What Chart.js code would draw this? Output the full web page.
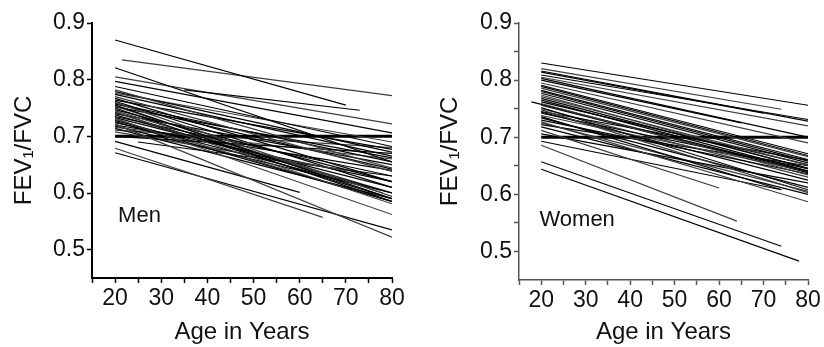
<!DOCTYPE html>
<html>
<head>
<meta charset="utf-8">
<script src="https://cdn.jsdelivr.net/npm/chart.js@4"></script>
<style>
  body { margin: 0; background: #fff; }
  #wrap { position: relative; width: 824px; height: 347px; }
  canvas { position: absolute; top: 0; }
  #men { left: 0; }
  #women { left: 412px; }
</style>
</head>
<body>
<div id="wrap">
  <canvas id="men" width="412" height="347"></canvas>
  <canvas id="women" width="412" height="347"></canvas>
</div>
<script>
// Men: one line per subject (start age, start value, end age, end value)
const menStartAge = [20, 21.5, 35, 20, 20, 20, 20, 20, 20, 20, 20, 20, 20, 20, 20, 20, 20, 20,
                     20, 20, 20, 20, 20, 20, 20, 20, 20, 20, 20, 25, 20, 20, 20, 20, 20,
                     20, 20, 20, 20, 20, 20, 20, 20, 20, 20, 20, 20];
const menStartVal = [0.870, 0.835, 0.782, 0.821, 0.805, 0.797, 0.788, 0.782, 0.779, 0.774, 0.770, 0.767,
                     0.764, 0.760, 0.758, 0.755, 0.753, 0.750, 0.747, 0.743, 0.738, 0.735, 0.732, 0.728,
                     0.726, 0.722, 0.720, 0.714, 0.708, 0.690, 0.691, 0.679, 0.671, 0.700, 0.716,
                     0.762, 0.757, 0.745, 0.740, 0.733, 0.730, 0.724, 0.718, 0.776, 0.752, 0.742, 0.711];
const menEndAge = [70, 80, 73, 80, 80, 80, 80, 80, 80, 80, 80, 80, 80, 80, 80, 80, 78, 80,
                   80, 80, 80, 80, 80, 75, 80, 80, 80, 80, 70, 80, 60, 65, 80, 80, 80,
                   80, 80, 80, 80, 80, 80, 80, 80, 80, 80, 80, 80];
const menEndVal = [0.755, 0.772, 0.746, 0.655, 0.722, 0.706, 0.682, 0.644, 0.672, 0.665, 0.638, 0.620,
                   0.677, 0.594, 0.655, 0.590, 0.600, 0.585, 0.620, 0.581, 0.600, 0.630, 0.562, 0.610,
                   0.585, 0.522, 0.640, 0.590, 0.640, 0.630, 0.601, 0.557, 0.535, 0.670, 0.660,
                   0.610, 0.642, 0.600, 0.650, 0.610, 0.585, 0.620, 0.600, 0.690, 0.662, 0.590, 0.680];

// Women
const womenStartAge = [20, 20, 20, 20, 20, 20, 20, 20, 20, 20, 20, 20, 20, 20, 17.8, 20,
                       20, 20, 20, 20, 20, 20, 20, 20, 20, 20, 20, 20, 20, 20, 20,
                       20, 20, 20, 20, 20, 20, 20, 20, 20, 20, 20, 20];
const womenStartVal = [0.830, 0.820, 0.814, 0.809, 0.805, 0.800, 0.791, 0.786, 0.782, 0.777, 0.771,
                       0.768, 0.765, 0.759, 0.762, 0.752, 0.748, 0.745, 0.742, 0.738, 0.736, 0.730,
                       0.727, 0.722, 0.718, 0.712, 0.706, 0.693, 0.686, 0.657, 0.644,
                       0.795, 0.789, 0.780, 0.774, 0.762, 0.756, 0.750, 0.744, 0.734, 0.725, 0.816, 0.803];
const womenEndAge = [80, 74, 70, 80, 80, 65, 80, 80, 80, 80, 80, 80, 80, 80, 80, 80,
                     80, 80, 80, 80, 74, 80, 80, 80, 80, 60, 80, 74, 64, 74, 78,
                     80, 80, 80, 80, 80, 80, 80, 80, 80, 80, 80, 80];
const womenEndVal = [0.756, 0.749, 0.742, 0.731, 0.720, 0.725, 0.671, 0.666, 0.661, 0.655, 0.651,
                     0.646, 0.641, 0.634, 0.640, 0.608, 0.603, 0.660, 0.645, 0.640, 0.608, 0.636,
                     0.587, 0.650, 0.600, 0.611, 0.620, 0.608, 0.553, 0.509, 0.483,
                     0.690, 0.668, 0.658, 0.645, 0.652, 0.638, 0.630, 0.625, 0.612, 0.605, 0.728, 0.700];

// FEV1/FVC = 0.70 fixed cut-off
const cutoff = 0.70;
const cutoffAge = [20, 80];

// axes
const xTicks = [15, 20, 25, 30, 35, 40, 45, 50, 55, 60, 65, 70, 75, 80];
const yTicksMen = [0.5, 0.6, 0.7, 0.8, 0.9];
const yTicksWomen = [0.5, 0.55, 0.6, 0.65, 0.7, 0.75, 0.8, 0.85, 0.9];
const xTitle = 'Age in Years';
const yTitle = 'FEV\u2081/FVC';

const FONT = '"Liberation Sans", Arial, sans-serif';
const TEXT = '#111';

function buildSets(sa, sv, ea, ev) {
    const sets = sa.map((a, i) => ({
        data: [{x: a, y: sv[i]}, {x: ea[i], y: ev[i]}],
        borderColor: i % 3 === 1 ? '#3c3c3c' : '#000',
        borderWidth: 1.2,
        pointRadius: 0,
        showLine: true,
    }));
    sets.push({
        data: [{x: cutoffAge[0], y: cutoff}, {x: cutoffAge[1], y: cutoff}],
        borderColor: '#000',
        borderWidth: 3,
        pointRadius: 0,
        showLine: true,
    });
    return sets;
}

// "Men" / "Women" text inside the plot
const panelLabel = {
    id: 'panelLabel',
    afterDatasetsDraw(chart, args, opts) {
        const {ctx, scales} = chart;
        ctx.save();
        ctx.font = '22px ' + FONT;
        ctx.fillStyle = TEXT;
        ctx.textBaseline = 'alphabetic';
        ctx.fillText(opts.text, scales.x.getPixelForValue(opts.x), scales.y.getPixelForValue(opts.y));
        ctx.restore();
    }
};

function makeChart(id, sets, p) {
    const tickFont = {family: FONT, size: 23};
    const titleFont = {family: FONT, size: 24};
    return new Chart(document.getElementById(id), {
        type: 'scatter',
        data: {datasets: sets},
        plugins: [panelLabel],
        options: {
            responsive: false,
            animation: false,
            events: [],
            layout: {padding: {top: p.top, right: p.right, left: 0, bottom: 0}},
            plugins: {
                legend: {display: false},
                tooltip: {enabled: false},
                panelLabel: p.label,
            },
            scales: {
                x: {
                    type: 'linear',
                    min: 15,
                    max: 80,
                    afterBuildTicks: s => { s.ticks = xTicks.map(v => ({value: v})); },
                    afterFit: s => { s.height = p.xHeight; },
                    ticks: {
                        callback: v => (v % 10 === 0 ? v : ''),
                        font: tickFont, color: TEXT, padding: 2,
                        maxRotation: 0, autoSkip: false,
                    },
                    grid: {drawOnChartArea: false, tickLength: 5, tickColor: p.axisColor, tickWidth: 1.5},
                    border: {color: p.axisColor, width: p.axisWidth},
                    title: {display: true, text: xTitle, font: titleFont, color: TEXT, padding: 0},
                },
                y: {
                    type: 'linear',
                    min: 0.45,
                    max: 0.9,
                    afterBuildTicks: s => { s.ticks = p.yTicks.map(v => ({value: v})); },
                    afterFit: s => { s.width = p.yWidth; },
                    ticks: {
                        callback: v => (Math.round(v * 100) % 10 === 0 ? v.toFixed(1) : ''),
                        font: tickFont, color: TEXT, padding: 2, autoSkip: false,
                    },
                    grid: {drawOnChartArea: false, tickLength: 5, tickColor: p.axisColor, tickWidth: 1.5},
                    border: {color: p.axisColor, width: p.axisWidth},
                    title: {display: true, text: yTitle, font: titleFont, color: TEXT, padding: {top: p.yTitlePad, bottom: 0}},
                },
            },
        },
    });
}

makeChart('men', buildSets(menStartAge, menStartVal, menEndAge, menEndVal), {
    top: 23, right: 20, xHeight: 69, yWidth: 92, yTitlePad: 10,
    axisColor: '#000', axisWidth: 2, yTicks: yTicksMen,
    label: {text: 'Men', x: 20.65, y: 0.548},
});

makeChart('women', buildSets(womenStartAge, womenStartVal, womenEndAge, womenEndVal), {
    top: 23, right: 16, xHeight: 67, yWidth: 107, yTitlePad: 24,
    axisColor: '#555', axisWidth: 1.5, yTicks: yTicksWomen,
    label: {text: 'Women', x: 19.6, y: 0.545},
});
</script>
</body>
</html>
